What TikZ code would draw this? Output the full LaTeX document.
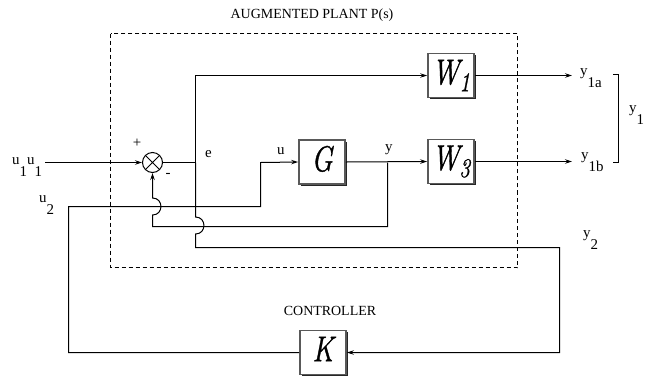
\documentclass[tikz,border=0pt]{standalone}
\usepackage{fontspec}
\setmainfont{Liberation Serif}
\newfontfamily\lmfont{Latin Modern Roman}[FakeBold=1.2]
\usetikzlibrary{arrows.meta,shadows}
\newcommand\lsub[2]{#1\raisebox{-12bp}{#2}}
\newcommand\blk[2]{\scalebox{0.78}[1]{\lmfont\itshape\fontsize{36}{36}\selectfont #1\raisebox{-7bp}{\fontsize{27}{27}\selectfont #2}}}
\begin{document}
\begin{tikzpicture}[x=1bp,y=-1bp,
  wire/.style={line width=1bp, black},
  arr/.style={wire,-{Stealth[length=7bp,width=4.5bp,inset=2.5bp]}},
  blockbox/.style={draw=black!65, line width=1.8bp, minimum width=46bp, minimum height=44bp, inner sep=0pt, fill=white,
    drop shadow={shadow xshift=1.9bp, shadow yshift=-1.9bp, fill=black, opacity=0.85}},
  sumnode/.style={circle, draw, line width=1bp, minimum size=20bp, inner sep=0pt,
    path picture={\draw[line width=1bp] (path picture bounding box.north west) -- (path picture bounding box.south east)
      (path picture bounding box.north east) -- (path picture bounding box.south west);}},
  lbl/.style={font=\fontsize{15}{17}\selectfont, inner sep=0pt},
  ttl/.style={font=\fontsize{14}{16}\selectfont, inner sep=0pt},
  plant/.style={line width=1bp, dash pattern=on 4bp off 3bp},
]
\useasboundingbox (0,0) rectangle (645,375);

% augmented plant frame
\coordinate (pl1) at (110.5,33.5);
\coordinate (pl2) at (517.5,267.5);
\draw[plant] (pl1) rectangle (pl2);
\node[ttl] (ptitle) at (312,15) {AUGMENTED PLANT P(s)};

% blocks
\node[sumnode] (S) at (152.5,162.5) {};
\node[blockbox] (W1) at (451,75.5) {\blk{W}{1}};
\node[blockbox] (G) at (322,162) {\blk{G}{}};
\node[blockbox] (W3) at (451,161.5) {\blk{W}{3}};
\node[ttl] (ctitle) at (330,311) {CONTROLLER};
\node[blockbox] (K) at (323,352.5) {\blk{K}{}};

% coordinates
\coordinate (u1in) at (45,162.5);
\coordinate (ej) at (195.5,162.5);
\coordinate (ej2) at (195.5,217);
\coordinate (ej3) at (195.5,234);
\coordinate (ej4) at (195.5,247.5);
\coordinate (y2c) at (559.5,247.5);
\coordinate (yj) at (387.5,162.5);
\coordinate (fb1) at (387.5,226.5);
\coordinate (fb2) at (152.5,226.5);
\coordinate (fb3) at (152.5,215);
\coordinate (fb4) at (152.5,198);
\coordinate (kl) at (68.5,352.5);
\coordinate (u2c) at (68.5,206.5);
\coordinate (u2r) at (260.5,206.5);
\coordinate (u2up) at (260.5,162.5);
\coordinate (y1a) at (572,75.5);
\coordinate (y1b) at (572,161.5);
\coordinate (b1) at (613,74.5);
\coordinate (b2) at (618.5,74.5);
\coordinate (b3) at (618.5,162.5);
\coordinate (b4) at (613,162.5);

% connectors
\draw[arr] (u1in) -- (S.west);
\draw[wire] (S.east) -- (ej);
\draw[arr] (ej) |- (W1.west);
\draw[arr] (ej) -- (ej2) to[out=0,in=0,looseness=1.7] (ej3) -- (ej4) -- (y2c) |- (K.east);
\draw[arr] (yj) -- (fb1) -- (fb2) -- (fb3) to[out=0,in=0,looseness=1.7] (fb4) -- (S.south);
\draw[arr] (K.west) -- (kl) -- (u2c) -- (u2r) -- (u2up) -- (G.west);
\draw[arr] (G.east) -- (W3.west);
\draw[arr] (W1.east) -- (y1a);
\draw[arr] (W3.east) -- (y1b);
\draw[wire] (b1) -- (b2) -- (b3) -- (b4);

% labels
\node[lbl, anchor=base west] (lu1) at (12,164) {\lsub{u}{1}\lsub{u}{1}};
\node[lbl, anchor=base west] (lu2) at (39,202) {\lsub{u}{2}};
\node[lbl] (lplus) at (137,143) {+};
\node[lbl] (lminus) at (168,175) {-};
\node[lbl, anchor=base west] (le) at (205,157) {e};
\node[lbl, anchor=base west] (lu) at (277,154) {u};
\node[lbl, anchor=base west] (ly) at (385,151) {y};
\node[lbl, anchor=base west] (ly1a) at (580,75) {\lsub{y}{1a}};
\node[lbl, anchor=base west] (ly1b) at (581,159) {\lsub{y}{1b}};
\node[lbl, anchor=base west] (ly1) at (629,112) {\lsub{y}{1}};
\node[lbl, anchor=base west] (ly2) at (583,237) {\lsub{y}{2}};
\end{tikzpicture}
\end{document}
